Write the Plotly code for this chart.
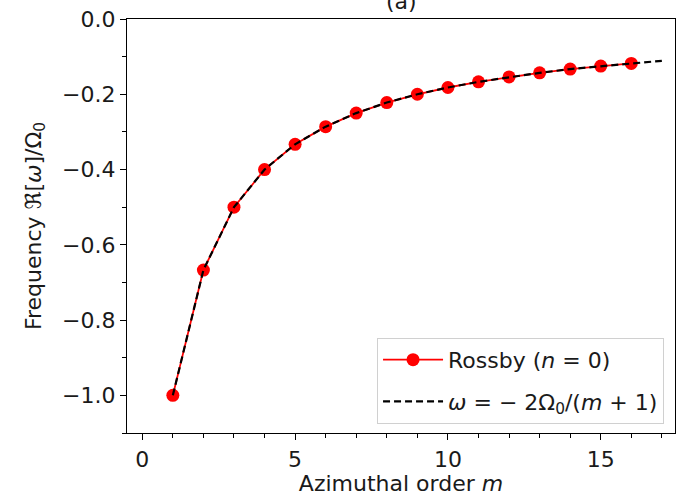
import plotly.graph_objects as go

# Data
m_vals = [1, 2, 3, 4, 5, 6, 7, 8, 9, 10, 11, 12, 13, 14, 15, 16]
rossby = [-1.0, -0.667, -0.5, -0.4, -0.333, -0.286, -0.25, -0.222, -0.2,
          -0.182, -0.167, -0.154, -0.143, -0.133, -0.125, -0.118]

m_curve = [1, 2, 3, 4, 5, 6, 7, 8, 9, 10, 11, 12, 13, 14, 15, 16, 17]
w_curve = [-1.0, -0.667, -0.5, -0.4, -0.333, -0.286, -0.25, -0.222, -0.2,
           -0.182, -0.167, -0.154, -0.143, -0.133, -0.125, -0.118, -0.111]

x_ticks = [0, 5, 10, 15]
y_ticks = [0.0, -0.2, -0.4, -0.6, -0.8, -1.0]
y_tick_text = ["0.0", "\u22120.2", "\u22120.4", "\u22120.6", "\u22120.8", "\u22121.0"]

font = "DejaVu Sans"
fs = 22
txt_color = "#1a1a1a"

fig = go.Figure()
fig.add_trace(go.Scatter(
    x=m_vals, y=rossby, mode="lines+markers",
    line=dict(color="#ff0000", width=1.8),
    marker=dict(color="#ff0000", size=13),
    name="Rossby (<i>n</i> = 0)", legendgroup="a",
))
fig.add_trace(go.Scatter(
    x=m_curve, y=w_curve, mode="lines",
    line=dict(color="black", width=2.2, dash="7px,4px"),
    name="<i>\u03c9</i> = \u2212 2\u03a9<sub>0</sub>/(<i>m</i> + 1)", legendgroup="b",
))

axis_common = dict(
    showgrid=False, zeroline=False, showline=True, linecolor="black",
    linewidth=1.2, mirror=True, ticks="outside", ticklen=6, tickwidth=1.2,
    tickcolor="black", tickfont=dict(family=font, size=fs, color=txt_color),
)

fig.update_xaxes(
    range=[-0.5, 17.43], tickvals=x_ticks,
    minor=dict(dtick=1, tick0=0, ticks="outside", ticklen=3.5, tickwidth=1, tickcolor="black"),
    title=dict(text="Azimuthal order <i>m</i>", font=dict(family=font, size=fs, color=txt_color), standoff=4),
    **axis_common,
)
fig.update_yaxes(
    range=[-1.1, 0.0], tickvals=y_ticks, ticktext=y_tick_text,
    minor=dict(dtick=0.1, tick0=0, ticks="outside", ticklen=3.5, tickwidth=1, tickcolor="black"),
    title=dict(text="Frequency \u211c[<i>\u03c9</i>]/\u03a9<sub>0</sub>", font=dict(family=font, size=fs, color=txt_color), standoff=14),
    **axis_common,
)

fig.add_annotation(
    text="(a)", x=0.5, xref="paper", y=1.0, yref="paper", yanchor="bottom",
    xanchor="center", showarrow=False, yshift=3,
    font=dict(family=font, size=fs, color=txt_color),
)

fig.update_layout(
    width=678, height=497,
    margin=dict(l=127, r=3, t=19, b=64),
    paper_bgcolor="white", plot_bgcolor="white",
    showlegend=True,
    legend=dict(
        x=0.98, y=0.022, xanchor="right", yanchor="bottom",
        bgcolor="rgba(255,255,255,0.9)", bordercolor="#d0d0d0", borderwidth=1,
        font=dict(family=font, size=fs, color=txt_color),
        tracegroupgap=10, itemwidth=60,
    ),
)

fig.write_html("out.html")
